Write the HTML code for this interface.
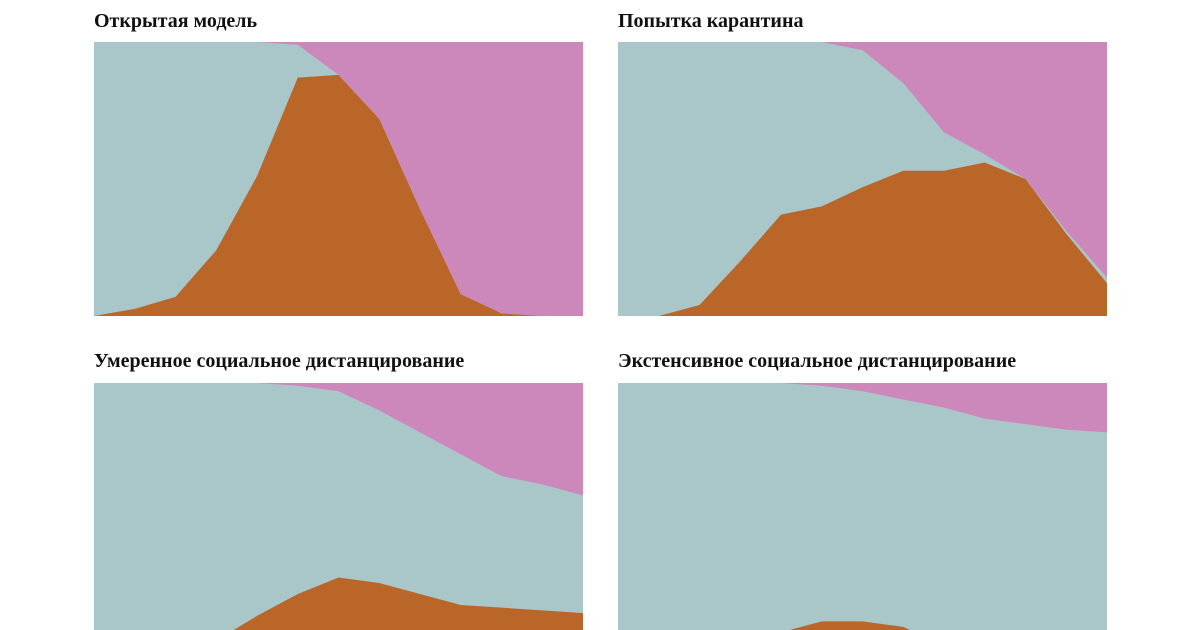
<!DOCTYPE html>
<html><head><meta charset="utf-8"><style>
body{margin:0;width:1200px;height:630px;overflow:hidden;background:#fff;font-family:"Liberation Serif",serif}
.t{position:absolute;font-weight:bold;font-size:20px;color:#111;white-space:nowrap}
svg{position:absolute;left:0;top:0}
</style></head><body>
<div class="t" style="left:94px;top:10px">Открытая модель</div>
<div class="t" style="left:618px;top:10px">Попытка карантина</div>
<div class="t" style="left:94px;top:350px">Умеренное социальное дистанцирование</div>
<div class="t" style="left:618px;top:350px">Экстенсивное социальное дистанцирование</div>
<svg id="c" width="1200" height="630"></svg>
<script>
const days=[0,1,2,3,4,5,6,7,8,9,10,11,12];
const infOpen=[0,2.6,7,24,51,87,88,72,39,8,1,0,0];
const recOpen=[0,0,0,0,0,1,12,28,61,92,99,100,100];
const infQuar=[0,0,4,20,37,40,47,53,53,56,50,30,12];
const recQuar=[0,0,0,0,0,0,3,15,33,41,50,69,86];
const infMod=[0,0,0,6,15,23,29,27,23,19,18,17,16];
const recMod=[0,0,0,0,0,1,3,10,18,26,34,37,41];
const infExt=[0,0,0,0,9,13,13,11,4,1,0,0,0];
const recExt=[0,0,0,0,0,1,3,6,9,13,15,17,18];
const panels=[
 {name:'open',x0:94,y0:42,inf:infOpen,rec:recOpen},
 {name:'quarantine',x0:618,y0:42,inf:infQuar,rec:recQuar},
 {name:'moderate',x0:94,y0:383,inf:infMod,rec:recMod},
 {name:'extensive',x0:618,y0:383,inf:infExt,rec:recExt}];
const W=489,H=274,NS='http://www.w3.org/2000/svg';
const svg=document.getElementById('c');
panels.forEach(p=>{
 const xs=d=>p.x0+d/days[days.length-1]*W;
 const ys=v=>p.y0+H-v/100*H;
 const g=document.createElementNS(NS,'g');
 
 
 svg.appendChild(g);
 const bg=document.createElementNS(NS,'rect');
 
 
 bg.setAttribute('x',p.x0);bg.setAttribute('y',p.y0);bg.setAttribute('width',W);bg.setAttribute('height',H);bg.setAttribute('fill','#a9c6c9');
 g.appendChild(bg);
 let pi=`M${xs(days[0])},${ys(0)}`;
 days.forEach((d,i)=>{pi+=`L${xs(d)},${ys(p.inf[i])}`});
 pi+=`L${xs(days[days.length-1])},${ys(0)}Z`;
 const a=document.createElementNS(NS,'path');
 
 
 a.setAttribute('d',pi);a.setAttribute('fill','#bb6629');
 g.appendChild(a);
 let pr=`M${xs(days[0])},${ys(100)}`;
 days.forEach((d,i)=>{pr+=`L${xs(d)},${ys(100-p.rec[i])}`});
 pr+=`L${xs(days[days.length-1])},${ys(100)}Z`;
 const b=document.createElementNS(NS,'path');
 
 
 b.setAttribute('d',pr);b.setAttribute('fill','#cd88bb');
 g.appendChild(b);
});
</script>
</body></html>
